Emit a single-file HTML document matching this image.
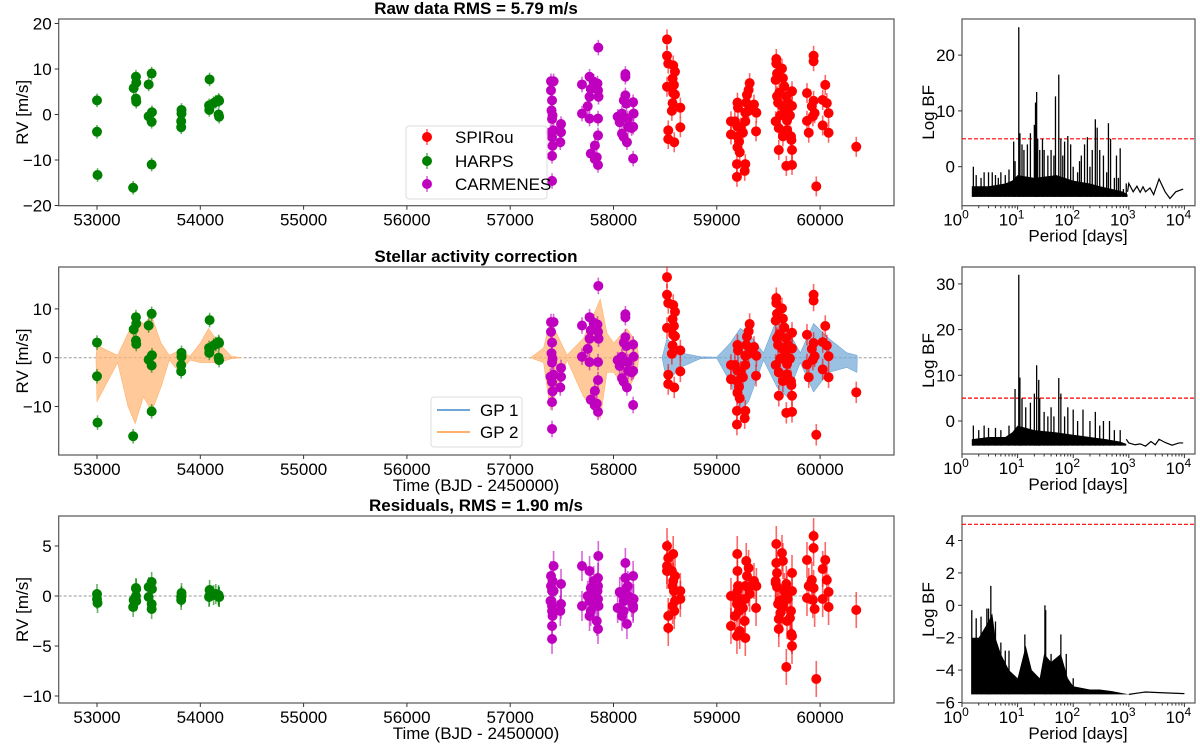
<!DOCTYPE html>
<html><head><meta charset="utf-8"><style>
html,body{margin:0;padding:0;background:#fff;}
svg{display:block;font-family:"Liberation Sans","DejaVu Sans",sans-serif;}
</style></head><body>
<svg id="fig" width="1200" height="745" viewBox="0 0 1200 745" xmlns="http://www.w3.org/2000/svg"></svg>
<script>
// ---------- DATA ----------
const harpsT=[53000,53000,53005,53355,53377,53380,53377,53380,53350,53500,53500,53529,53532,53529,53529,53818,53818,53815,53815,54090,54085,54087,54129,54150,54177,54182,54177,54182];
const harpsRaw=[3.1,-3.8,-13.3,5.8,8.3,7.0,3.5,2.8,-16.1,6.6,-0.4,9.0,0.5,-1.6,-11.0,1.0,0.2,-1.5,-2.8,7.7,2.0,1.0,2.5,2.8,3.2,3.0,0.0,-0.5];
const harpsRes=[0.2,-0.3,-0.7,-0.4,0.8,0.7,0.0,-0.5,-1.1,0.9,-0.1,1.4,0.7,-0.8,-1.3,0.3,0.0,-0.1,-0.4,0.6,-0.1,0.0,0.1,0.2,0.1,-0.1,0.0,-0.1];
const carmT=[57395,57420,57395,57405,57400,57410,57405,57390,57420,57405,57410,57405,57405,57492,57492,57485,
57695,57695,57768,57808,57845,57850,57780,57768,57855,57750,57768,57850,57850,57780,57820,57838,57850,57820,57853,
58115,58115,58115,58100,58125,58040,58082,58190,58195,58190,58175,58141,58082,58098,58130,58190,58060,58138];
const carmRaw=[7.3,7.3,5.3,3.1,0.9,-0.2,-1.0,-3.9,-3.5,-5.0,-6.9,-9.1,-14.6,-2.1,-3.9,-6.1,
6.6,0.2,8.3,7.2,6.8,5.3,5.6,3.9,3.9,1.8,-0.9,-0.9,-4.6,-8.6,-6.8,-9.4,-11.1,-9.8,14.7,
8.9,8.3,4.2,3.1,2.4,-0.5,0.2,2.7,0.2,-2.7,-3.0,-2.7,-4.2,-4.9,-6.1,-9.7,-1.7,-0.9];
const carmRes=[2.0,3.0,1.0,0.5,-0.5,1.5,-1.0,-0.5,0.5,-1.5,-2.0,-3.0,-4.3,1.2,-0.8,-1.5,
3.0,-1.0,2.5,1.5,0.5,1.0,0.8,-0.5,-1.0,0.0,-2.0,1.8,-0.3,-1.5,0.3,-2.5,-3.3,-1.0,4.0,
1.8,3.3,0.5,-0.5,0.8,-1.2,0.2,2.0,-0.3,-1.0,-0.6,0.0,-2.0,-1.5,-2.8,-1.2,0.4,1.0];
const spiT=[58518,58518,58530,58578,58595,58572,58518,58585,58578,58595,58572,58647,58565,58647,58530,58530,58588,
59137,59137,59200,59205,59175,59198,59198,59215,59200,59222,59195,59195,59276,59270,59285,59276,59292,59318,59308,59276,59253,59360,59383,59380,59308,59230,
59576,59576,59631,59583,59570,59640,59653,59605,59673,59728,59583,59593,59631,59686,59663,59728,59615,59708,59570,59680,59600,59680,59640,59718,59722,59600,59728,59673,59728,
59937,59937,59873,59937,59920,59873,59890,59947,59930,60050,60025,60065,60082,60025,60082,59963,60350];
const spiRaw=[16.5,12.9,11.2,10.8,9.4,7.9,6.1,6.5,4.7,4.4,2.5,1.5,0.8,-2.8,-3.5,-5.4,-6.1,
-1.5,-4.4,2.6,1.5,-1.5,-2.6,-4.8,-6.0,-7.2,-8.3,-10.9,-13.7,-10.9,-12.4,2.6,0.4,4.3,6.9,5.4,-1.5,-4.0,2.2,0.4,-3.7,0.8,-2.9,
12.2,11.2,10.1,9.0,7.6,8.0,6.2,4.8,4.0,5.1,4.0,2.6,1.9,2.6,0.7,1.9,-0.2,-0.2,-1.5,-1.3,-3.0,-3.4,-4.8,-4.8,-5.6,-7.8,-7.8,-11.3,-11.1,
12.9,11.7,4.7,3.0,1.8,-1.4,-4.0,0.3,-0.4,6.5,3.2,2.5,0.3,-2.4,-4.0,-15.8,-7.1];
const spiRes=[5.0,2.5,3.8,1.5,2.0,-1.0,3.0,0.5,4.2,-0.5,1.0,-0.3,2.5,0.5,-2.0,-3.2,-1.5,
0.0,-3.0,2.5,1.0,-2.0,4.2,-0.5,-1.5,0.5,-3.5,-0.8,-4.0,-4.2,-2.5,3.5,1.0,2.0,0.2,2.8,-0.3,-1.2,1.5,1.0,-1.2,0.8,-0.3,
5.2,3.3,4.3,2.3,1.5,3.5,0.5,-0.5,1.2,2.3,0.9,-0.8,-1.2,-0.3,0.0,0.5,-1.7,-2.2,1.3,0.5,-3.3,-2.5,-0.9,-1.5,-3.8,-2.3,-4.0,-7.1,-5.0,
4.8,6.0,3.6,0.8,1.6,-0.2,1.0,-1.3,-0.4,3.6,2.7,1.6,0.4,-0.3,-1.1,-8.3,-1.4];
// GP envelopes
const gp2aT=[52990,53000,53100,53200,53300,53370,53450,53530,53620,53700,53800,53900,54000,54080,54180,54300,54400];
const gp2aUp=[0,2.5,1.5,0.5,5,8,7,8.5,3,0.5,1.5,0.3,3,6,3,0.3,0];
const gp2aLo=[0,-9,-5,-1,-10,-13.5,-8,-11,-6,-0.5,-3,-0.5,-1,-1,-1,-0.2,0];
const gp2bT=[57195,57323,57388,57550,57710,57872,57937,58001,58130,58227,58245];
const gp2bUp=[0,2,7.7,0.5,4,12,5,3,6,3,0];
const gp2bLo=[0,-1,-10.7,-0.5,-8,-12.5,-3,-3,-7,-3,0];
const gp1T=[58470,58518,58647,58840,59000,59130,59227,59308,59452,59582,59679,59808,59937,60082,60260,60356,60360];
const gp1Up=[0,4,1,0.2,0.1,3,6,5,1,8,6,1,7,4,1,0.5,0];
const gp1Lo=[0,-5,-2,-0.2,-0.1,-5,-11,-9,-0.5,-6,-8,-1,-7,-3,-2,-3,0];
// periodograms
const p1BandP=[1.5,3,6,8,10,20,50,100,200,300,500,800,950];
const p1BandTop=[-3.5,-3.5,-3,-2.5,-1.5,-2,-1.5,-2.5,-3,-3.5,-4,-4.5,-5];
const p1PeakP=[1.6,1.8,2.2,2.5,3,3.5,4,4.5,5,6,7,8.5,9,10.5,11,12,13,15,17,20,21,22,23,25,28,30,35,40,45,48,55,60,65,70,80,90,100,120,130,140,160,180,200,220,250,270,300,350,400,430,470,550,600,650,700,800,900];
const p1PeakV=[0,-1.5,-2,-1,-1,-1,-1.5,-2,-1,-1.5,-0.5,4.5,1,25,6,4,3,4,6,7.5,11.5,13.4,5,3,5,3,2,3,2,12.6,16.5,5,2,4.5,5.5,4,0,-1,1,2,4,5.3,0,3,8.5,7,3,2,-1,7.8,5,-2,2,-2,3.3,-4,-3];
const p1TailP=[950,1000,1200,1400,1600,1800,2000,2400,2800,3500,4500,5500,7000,9500];
const p1TailV=[-4.5,-3,-4.5,-3.5,-4.6,-3.6,-4.5,-3.8,-5,-2.2,-4.5,-5.7,-4.5,-4.0];
const p2BandP=[1.5,3,6,8,10,20,50,100,200,400,700,900];
const p2BandTop=[-4,-3.5,-3.5,-2.5,-1,-2,-2.5,-3,-3.5,-4,-4.5,-5];
const p2PeakP=[1.6,2,2.5,3,4,5,7,9,10.5,11,12,14,17,20,22,24,25,30,35,40,45,55,60,70,80,100,120,150,200,250,300,350,450,550,700];
const p2PeakV=[-1,-2,-1,-1.5,-1.5,-2,-1,7,32,9.5,5,3,4,6,12.2,9,5,2,1,3,1,9.4,6,1,3,2.5,0,2.5,0,2,-1,0,0,-2,-2];
const p2TailP=[900,1000,1300,1600,2000,2500,3000,3500,4500,6000,8000,9500];
const p2TailV=[-4,-4.8,-5.2,-5,-5.5,-4.5,-5.2,-4,-4.7,-5.3,-4.8,-4.8];
const p3BandP=[1.5,2,3,3.5,4,5,7,10,14,18,25,30,40,60,80,100,200,300,500,1000];
const p3BandTop=[-2,-2,-1,-0.5,-2,-3,-4,-4.5,-2.5,-4,-4.5,-3,-3.5,-3,-4.5,-5,-5.2,-5.2,-5.3,-5.5];
const p3PeakP=[1.5,1.8,2.2,2.8,3.0,3.3,4,5,6,7,13.5,31,32,40,60,75,100];
const p3PeakV=[-0.3,-0.8,-0.7,-0.2,-0.2,1.2,-1,-2.3,-2.8,-2.8,-1.8,0,-0.3,-3,-1.8,-3,-4.5];
const p3TailP=[1000,2000,4000,10000];
const p3TailV=[-5.5,-5.35,-5.4,-5.45];
const timeTicks=[53000,54000,55000,56000,57000,58000,59000,60000];

// ---------- helpers ----------
const svg=document.getElementById('fig');
const NS='http://www.w3.org/2000/svg';
function mk(tag,attrs,parent){const e=document.createElementNS(NS,tag);for(const k in attrs)e.setAttribute(k,attrs[k]);(parent||svg).appendChild(e);return e;}
const X=t=>97+(t-53000)*0.1033;
const L=p=>962+Math.log10(p)*55.6;
const LX0=58.7,LX1=894,RX0=962,RX1=1195;
const panels=[{top:19,bot:205.7,zero:114.5,k:4.55},{top:267,bot:455,zero:357.7,k:4.88},{top:516,bot:703,zero:596,k:10}];
const rpanels=[{top:19,bot:205.7,zero:166.7,k:5.58},{top:267,bot:454,zero:421,k:4.57},{top:516,bot:703,zero:605.3,k:16.2}];

function text(x,y,s,opt,name){const t=mk('text',Object.assign({x:x,y:y,'font-size':17,fill:'#000'},opt||{}));t.textContent=s;

return t;}

function leftAxes(i,yticks,title,xlabel){
  const p=panels[i];const g=mk('g',{});
  
  
  mk('rect',{x:LX0,y:p.top,width:LX1-LX0,height:p.bot-p.top,fill:'none',stroke:'#555','stroke-width':1.2},g);
  timeTicks.forEach(t=>{const x=X(t);mk('line',{x1:x,x2:x,y1:p.bot,y2:p.bot+4,stroke:'#333'},g);
    text(x,p.bot+20,String(t),{'text-anchor':'middle'},'x-tick-label');});
  yticks.forEach(v=>{const y=p.zero-v*p.k;mk('line',{x1:LX0-4,x2:LX0,y1:y,y2:y,stroke:'#333'},g);
    text(LX0-7,y+6,(v<0?'\u2212'+(-v):String(v)),{'text-anchor':'end'},'y-tick-label');});
  text(476,p.top-5,title,{'text-anchor':'middle','font-weight':'bold','font-size':17},'panel-title');
  text(0,0,'RV [m/s]',{'text-anchor':'middle',transform:`translate(28,${(p.top+p.bot)/2}) rotate(-90)`},'y-axis-title');
  if(xlabel)text(476,p.bot+36,'Time (BJD - 2450000)',{'text-anchor':'middle'},'x-axis-title');
  return g;
}
function zeroLine(i){const p=panels[i];mk('line',{x1:LX0,x2:LX1,y1:p.zero,y2:p.zero,stroke:'#999','stroke-dasharray':'3,2','stroke-width':1});}
function points(i,T,V,color,err,name){
  const p=panels[i];
  for(let j=0;j<T.length;j++){
    const x=X(T[j]),y=p.zero-V[j]*p.k,e=err*p.k;
    const l=mk('line',{x1:x,x2:x,y1:y-e,y2:y+e,stroke:color,'stroke-width':1.6,'stroke-opacity':0.6});
    
    
    const c=mk('circle',{cx:x,cy:y,r:5,fill:color});
    
    
  }
}
function gp(i,T,U,Lo,color,name){
  const p=panels[i];let pts=[];
  for(let j=0;j<T.length;j++)pts.push(X(T[j])+','+(p.zero-U[j]*p.k));
  for(let j=T.length-1;j>=0;j--)pts.push(X(T[j])+','+(p.zero-Lo[j]*p.k));
  const pg=mk('polygon',{points:pts.join(' '),fill:color,'fill-opacity':0.7,stroke:color,'stroke-width':0.6});
  
  
}
function rightAxes(i,yticks){
  const p=rpanels[i];const g=mk('g',{});
  
  
  mk('rect',{x:RX0,y:p.top,width:RX1-RX0,height:p.bot-p.top,fill:'none',stroke:'#555','stroke-width':1.2},g);
  for(let d=0;d<=4;d++){const x=L(Math.pow(10,d));mk('line',{x1:x,x2:x,y1:p.bot,y2:p.bot+4,stroke:'#333'},g);
    const t=text(x-6,p.bot+20,'10',{'text-anchor':'middle'},'x-tick-label');
    const s=mk('tspan',{dy:-7,'font-size':12},t);s.textContent=String(d);
    if(d<4)for(let m=2;m<10;m++){const xm=L(m*Math.pow(10,d));mk('line',{x1:xm,x2:xm,y1:p.bot,y2:p.bot+2.5,stroke:'#333'},g);}}
  yticks.forEach(v=>{const y=p.zero-v*p.k;mk('line',{x1:RX0-4,x2:RX0,y1:y,y2:y,stroke:'#333'},g);
    text(RX0-7,y+6,(v<0?'\u2212'+(-v):String(v)),{'text-anchor':'end'},'y-tick-label');});
  text(0,0,'Log BF',{'text-anchor':'middle',transform:`translate(934,${(p.top+p.bot)/2}) rotate(-90)`},'y-axis-title');
  text(1078,p.bot+36,'Period [days]',{'text-anchor':'middle'},'x-axis-title');
  const th=mk('line',{x1:RX0,x2:RX1,y1:p.zero-5*p.k,y2:p.zero-5*p.k,stroke:'#f00','stroke-dasharray':'4,2','stroke-width':1.2});
  
  
}
function periodogram(i,BP,BT,PP,PV,TP,TV,base){
  const p=rpanels[i];const Y=v=>p.zero-v*p.k;
  let pts=[];for(let j=0;j<BP.length;j++)pts.push(L(BP[j])+','+Y(BT[j]));
  pts.push(L(BP[BP.length-1])+','+Y(base));pts.push(L(BP[0])+','+Y(base));
  const band=mk('polygon',{points:pts.join(' '),fill:'#000'});
  
  
  for(let j=0;j<PP.length;j++){const l=mk('line',{x1:L(PP[j]),x2:L(PP[j]),y1:Y(base),y2:Y(PV[j]),stroke:'#000','stroke-width':1.3});
    
    }
  const tl=mk('polyline',{points:TP.map((q,j)=>L(q)+','+Y(TV[j])).join(' '),fill:'none',stroke:'#000','stroke-width':1.2});
  
  
}

// ---------- draw ----------
const RED='#ff0000',GRN='#008000',MAG='#bf00bf',ORG='#ffb26e',BLU='#6fa6d6';
leftAxes(0,[20,10,0,-10,-20],'Raw data RMS = 5.79 m/s',false);
points(0,harpsT,harpsRaw,GRN,1.5,'harps');
points(0,carmT,carmRaw,MAG,1.7,'carmenes');
points(0,spiT,spiRaw,RED,2.2,'spirou');

leftAxes(1,[10,0,-10],'Stellar activity correction',true);
zeroLine(1);
gp(1,gp2aT,gp2aUp,gp2aLo,ORG,'gp2-curve');
gp(1,gp2bT,gp2bUp,gp2bLo,ORG,'gp2-curve');
gp(1,gp1T,gp1Up,gp1Lo,BLU,'gp1-curve');
points(1,harpsT,harpsRaw,GRN,1.5,'harps');
points(1,carmT,carmRaw,MAG,1.7,'carmenes');
points(1,spiT,spiRaw,RED,2.2,'spirou');

leftAxes(2,[5,0,-5,-10],'Residuals, RMS = 1.90 m/s',true);
zeroLine(2);
points(2,harpsT,harpsRes,GRN,1.0,'harps');
points(2,carmT,carmRes,MAG,1.5,'carmenes');
points(2,spiT,spiRes,RED,1.8,'spirou');

// legends
(function(){
  const g=mk('g',{});
  mk('rect',{x:406,y:126,width:141,height:73,rx:3,fill:'#fff','fill-opacity':0.85,stroke:'#ddd'},g);
  [['SPIRou',RED,137],['HARPS',GRN,161],['CARMENES',MAG,184]].forEach(a=>{
    mk('line',{x1:427,x2:427,y1:a[2]-8,y2:a[2]+8,stroke:a[1],'stroke-opacity':0.6,'stroke-width':1.6},g);
    mk('circle',{cx:427,cy:a[2],r:5,fill:a[1]},g);
    text(455,a[2]+6,a[0],{},'legend-entry');});
  const g2=mk('g',{});
  mk('rect',{x:431,y:397,width:91,height:50,rx:3,fill:'#fff','fill-opacity':0.85,stroke:'#ddd'},g2);
  [['GP 1',BLU,410],['GP 2',ORG,432]].forEach(a=>{
    mk('line',{x1:437,x2:470,y1:a[2],y2:a[2],stroke:a[1],'stroke-width':2},g2);
    text(480,a[2]+6,a[0],{},'legend-entry');});
})();

rightAxes(0,[20,10,0]);
periodogram(0,p1BandP,p1BandTop,p1PeakP,p1PeakV,p1TailP,p1TailV,-5.4);
rightAxes(1,[30,20,10,0]);
periodogram(1,p2BandP,p2BandTop,p2PeakP,p2PeakV,p2TailP,p2TailV,-5.4);
rightAxes(2,[4,2,0,-2,-4,-6]);
periodogram(2,p3BandP,p3BandTop,p3PeakP,p3PeakV,p3TailP,p3TailV,-5.5);
</script>
</body></html>
